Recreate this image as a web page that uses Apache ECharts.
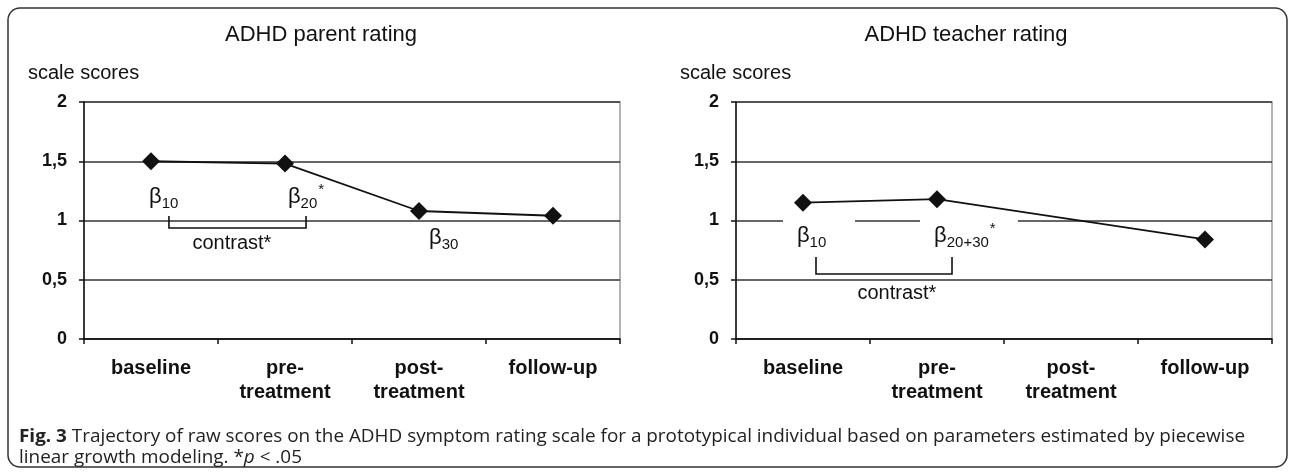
<!DOCTYPE html>
<html><head><meta charset="utf-8">
<script src="https://cdn.jsdelivr.net/npm/echarts@6/dist/echarts.min.js"></script>
<style>html,body{margin:0;padding:0;background:#fff}#c{width:1292px;height:473px}</style>
</head><body><div id="c"></div>
<script>
// ---- data ----
const categories = ['baseline', 'pre-\ntreatment', 'post-\ntreatment', 'follow-up'];
const parentScores = [1.5, 1.48, 1.08, 1.04];
const teacherScores = [1.15, 1.18, null, 0.84];
const yMin = 0, yMax = 2, yStep = 0.5;
const panelTitles = ['ADHD parent rating', 'ADHD teacher rating'];
const yAxisName = 'scale scores';
const captionBold = 'Fig. 3';
const captionLine1 = ' Trajectory of raw scores on the ADHD symptom rating scale for a prototypical individual based on parameters estimated by piecewise';
const captionLine2a = 'linear growth modeling. *';
const captionLine2b = 'p';
const captionLine2c = ' < .05';

// ---- layout ----
const FONT = '"Liberation Sans", Arial, sans-serif';
const INK = '#111';
const grids = [
  {left: 84, top: 102, width: 536, height: 237},
  {left: 736, top: 102, width: 536, height: 237}
];

const chart = echarts.init(document.getElementById('c'), null, {renderer: 'canvas'});

function xAxisFor(gi) {
  return {
    gridIndex: gi, type: 'category', data: categories, boundaryGap: true,
    axisLine: {lineStyle: {color: INK, width: 1.5}},
    axisTick: {show: true, interval: 0, length: 5, lineStyle: {color: INK, width: 1.5}},
    axisLabel: {interval: 0, margin: 17, fontFamily: FONT, fontSize: 20, fontWeight: 'bold', color: INK, lineHeight: 24},
    splitLine: {show: false}
  };
}
function yAxisFor(gi) {
  return {
    gridIndex: gi, type: 'value', min: yMin, max: yMax, interval: yStep,
    axisLine: {show: true, lineStyle: {color: INK, width: 1.5}},
    axisTick: {show: true, length: 5, lineStyle: {color: INK, width: 1.5}},
    axisLabel: {margin: 17, fontFamily: FONT, fontSize: 18, fontWeight: 'bold', color: INK,
      formatter: v => String(v).replace('.', ',')},
    splitLine: {show: true, lineStyle: {color: '#333', width: 1.5}}
  };
}
function seriesFor(gi, data, connect) {
  return {
    type: 'line', xAxisIndex: gi, yAxisIndex: gi, data: data, connectNulls: connect,
    symbol: 'diamond', symbolSize: 18, showSymbol: true,
    lineStyle: {color: INK, width: 1.8}, itemStyle: {color: INK},
    animation: false, z: 5
  };
}

chart.setOption({
  animation: false,
  backgroundColor: '#fff',
  grid: grids.map(g => Object.assign({show: true, borderColor: '#999', borderWidth: 1.5, backgroundColor: 'transparent'}, g)),
  xAxis: [xAxisFor(0), xAxisFor(1)],
  yAxis: [yAxisFor(0), yAxisFor(1)],
  series: [seriesFor(0, parentScores, false), seriesFor(1, teacherScores, true)]
});

// ---- annotations (positions in data space of each grid) ----
function px(gi, i, v) {
  const a = chart.convertToPixel({gridIndex: gi}, [0, v]);
  const b = chart.convertToPixel({gridIndex: gi}, [1, v]);
  return [a[0] + i * (b[0] - a[0]), a[1]];
}
const mctx = document.createElement('canvas').getContext('2d');
function measure(t, font) { mctx.font = font; return mctx.measureText(t).width; }

const betaLabels = [
  {grid: 0, sub: '10', sup: '', at: [-0.015, 1.198]},
  {grid: 0, sub: '20', sup: '*', at: [1.022, 1.198]},
  {grid: 0, sub: '30', sup: '', at: [2.075, 0.852]},
  {grid: 1, sub: '10', sup: '', at: [-0.045, 0.869], mask: [-0.149, 0.388, 1.063, 0.928]},
  {grid: 1, sub: '20+30', sup: '*', at: [0.978, 0.869], mask: [0.873, 1.604, 1.063, 0.928]}
];
const brackets = [
  {grid: 0, x0: 0.134, x1: 1.157, top: 1.038, bottom: 0.937},
  {grid: 1, x0: 0.097, x1: 1.112, top: 0.692, bottom: 0.549}
];
const contrastLabels = [
  {grid: 0, text: 'contrast*', at: [0.604, 0.81]},
  {grid: 1, text: 'contrast*', at: [0.701, 0.388]}
];

const g = [];
// frame
g.push({type: 'rect', shape: {x: 8, y: 8, width: 1279, height: 459, r: 12},
  style: {stroke: '#333', lineWidth: 1.5, fill: null}, z: 1});
// titles and axis names
const titleX = [321, 966], nameX = [28, 680];
for (let k = 0; k < 2; k++) {
  g.push({type: 'text', x: titleX[k], y: 35, z: 10,
    style: {text: panelTitles[k], font: '22px ' + FONT, fill: INK, align: 'center', verticalAlign: 'middle'}});
  g.push({type: 'text', x: nameX[k], y: 73, z: 10,
    style: {text: yAxisName, font: '20px ' + FONT, fill: INK, align: 'left', verticalAlign: 'middle'}});
}
const BF = '22px ' + FONT, SF = '15px ' + FONT, CF = '20px ' + FONT;
betaLabels.forEach(b => {
  if (b.mask) {
    const p0 = px(b.grid, b.mask[0], b.mask[2]);
    const p1 = px(b.grid, b.mask[1], b.mask[3]);
    g.push({type: 'rect', shape: {x: p0[0], y: p0[1], width: p1[0] - p0[0], height: p1[1] - p0[1]},
      style: {fill: '#fff', stroke: null}, z: 20});
  }
  const p = px(b.grid, b.at[0], b.at[1]);
  const bw = measure('β', BF);
  g.push({type: 'text', x: p[0], y: p[1], z: 21,
    style: {text: 'β', font: BF, fill: INK, align: 'left', verticalAlign: 'middle'}});
  g.push({type: 'text', x: p[0] + bw, y: p[1] + 7, z: 21,
    style: {text: b.sub, font: SF, fill: INK, align: 'left', verticalAlign: 'middle'}});
  if (b.sup) {
    const sw = measure(b.sub, SF);
    g.push({type: 'text', x: p[0] + bw + sw + 1, y: p[1] - 7, z: 21,
      style: {text: b.sup, font: SF, fill: INK, align: 'left', verticalAlign: 'middle'}});
  }
});
brackets.forEach(b => {
  const a = px(b.grid, b.x0, b.top), c = px(b.grid, b.x0, b.bottom);
  const d = px(b.grid, b.x1, b.bottom), e = px(b.grid, b.x1, b.top);
  g.push({type: 'polyline', z: 21, shape: {points: [a, c, d, e]},
    style: {stroke: INK, lineWidth: 1.6, fill: null}});
});
contrastLabels.forEach(c => {
  const p = px(c.grid, c.at[0], c.at[1]);
  g.push({type: 'text', x: p[0], y: p[1], z: 21,
    style: {text: c.text, font: CF, fill: INK, align: 'center', verticalAlign: 'middle'}});
});
// caption
const CFN = '"Open Sans", "Noto Sans", sans-serif';
const CS = 18;
const cw = measure(captionBold, 'bold ' + CS + 'px ' + CFN) + measure(captionLine1, CS + 'px ' + CFN);
const sx = 1226 / cw;
g.push({type: 'text', x: 19, y: 437, z: 10, scaleX: sx, originX: 0,
  style: {text: '{b|' + captionBold + '}' + captionLine1, font: CS + 'px ' + CFN, fill: '#222', align: 'left', verticalAlign: 'middle',
    rich: {b: {fontWeight: 'bold', fontSize: CS, fontFamily: CFN, fill: '#222'}}}});
g.push({type: 'text', x: 19, y: 458, z: 10, scaleX: sx, originX: 0,
  style: {text: captionLine2a + '{i|' + captionLine2b + '}' + captionLine2c, font: CS + 'px ' + CFN, fill: '#222', align: 'left', verticalAlign: 'middle',
    rich: {i: {fontStyle: 'italic', fontSize: CS, fontFamily: CFN, fill: '#222'}}}});

chart.setOption({graphic: {elements: g}});
</script></body></html>
